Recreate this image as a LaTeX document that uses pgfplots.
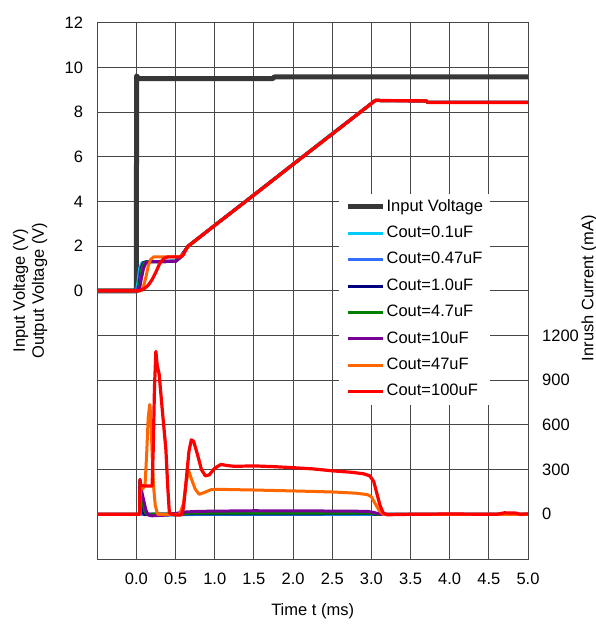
\documentclass[border=0pt]{standalone}
\usepackage{pgfplots}
\pgfplotsset{compat=1.18}
\usepackage{fontspec}
\setmainfont{Liberation Sans}
\newcommand\f{\fontsize{16.5bp}{19bp}\selectfont}
\definecolor{inputgray}{RGB}{55,55,55}
\definecolor{ccyan}{RGB}{0,204,255}
\definecolor{cblue}{RGB}{51,110,255}
\definecolor{cnavy}{RGB}{0,0,128}
\definecolor{cgreen}{RGB}{0,128,0}
\definecolor{cpurple}{RGB}{120,0,150}
\definecolor{corange}{RGB}{255,102,0}
\definecolor{cred}{RGB}{255,0,0}
\definecolor{gridc}{RGB}{70,70,70}
\begin{document}
\begin{tikzpicture}
\path[use as bounding box] (-97.3bp,-65bp) rectangle (498.7bp,559bp);
\begin{axis}[
 scale only axis, width=430.7bp, height=536.3bp,
 xmin=-0.5, xmax=5, ymin=-12, ymax=12,
 xtick={0,0.5,1,1.5,2,2.5,3,3.5,4,4.5,5},
 xticklabels={0.0,0.5,1.0,1.5,2.0,2.5,3.0,3.5,4.0,4.5,5.0},
 ytick={-10,-8,-6,-4,-2,0,2,4,6,8,10,12},
 yticklabels={,,,,,0,2,4,6,8,10,12},
 grid=major, major grid style={draw=gridc, line width=0.9bp},
 axis line style={draw=gridc, line width=0.9bp},
 major tick length=0pt,
 /pgf/number format/assume math mode=true,
 tick label style={font=\f, inner sep=0pt},
 xticklabel style={anchor=north, yshift=-14bp},
 yticklabel style={anchor=east, xshift=-14bp},
 xlabel={Time t (ms)},
 ylabel={Input Voltage (V)\\Output Voltage (V)},
 every axis x label/.style={at={(axis description cs:0.5,-0.098)}, anchor=center, font=\f},
 every axis y label/.style={at={(axis description cs:-0.156,0.5)}, rotate=90, anchor=center, align=center, font=\f},
 every axis plot/.append style={line join=round},
]
% Input voltage
\addplot[inputgray, line width=5bp] coordinates {(-0.5,0)(0,0)(0.001,9.62)(0.03,9.5)(1.74,9.5)(1.76,9.57)(5,9.57)};
% Output voltages
\addplot[ccyan, line width=3bp] coordinates {(-0.5,0)(0.0,0)(0.02,0.4)(0.04,1.0)(0.07,1.25)(0.12,1.3)(0.5,1.33)(0.56,1.5)(0.62,1.8)(0.66,2.0)(1.0,2.95)(1.5,4.31)(2.0,5.68)(2.5,7.05)(3.05,8.52)(3.7,8.5)(3.72,8.43)(5,8.43)};
\addplot[cblue, line width=3bp] coordinates {(-0.5,0)(0.01,0)(0.03,0.4)(0.05,1.0)(0.08,1.25)(0.12,1.3)(0.5,1.33)(0.56,1.5)(0.62,1.8)(0.66,2.0)(1.0,2.93)(1.5,4.29)(2.0,5.66)(2.5,7.02)(3.05,8.52)(3.7,8.5)(3.72,8.43)(5,8.43)};
\addplot[cnavy, line width=3bp] coordinates {(-0.5,0)(0.015,0)(0.035,0.3)(0.06,1.0)(0.09,1.25)(0.13,1.3)(0.5,1.32)(0.56,1.5)(0.62,1.8)(0.66,2.0)(1.0,2.93)(1.5,4.29)(2.0,5.66)(2.5,7.02)(3.05,8.52)(3.7,8.5)(3.72,8.43)(5,8.43)};
\addplot[cgreen, line width=3bp] coordinates {(-0.5,0)(0.02,0)(0.04,0.3)(0.07,1.0)(0.1,1.25)(0.14,1.3)(0.5,1.32)(0.56,1.5)(0.62,1.8)(0.66,2.0)(1.0,2.93)(1.5,4.29)(2.0,5.66)(2.5,7.02)(3.05,8.52)(3.7,8.5)(3.72,8.43)(5,8.43)};
\addplot[cpurple, line width=3bp] coordinates {(-0.5,0)(0.03,0)(0.04,0.1)(0.06,0.5)(0.09,1.0)(0.12,1.25)(0.15,1.3)(0.5,1.32)(0.56,1.5)(0.62,1.8)(0.66,2.0)(1.0,2.93)(1.5,4.29)(2.0,5.66)(2.5,7.02)(3.05,8.52)(3.7,8.5)(3.72,8.43)(5,8.43)};
\addplot[corange, line width=3bp] coordinates {(-0.5,0)(0.06,0)(0.09,0.2)(0.12,0.6)(0.15,1.1)(0.18,1.4)(0.22,1.52)(0.55,1.52)(0.6,1.65)(0.66,2.0)(1.0,2.93)(1.5,4.29)(2.0,5.66)(2.5,7.02)(3.05,8.52)(3.7,8.5)(3.72,8.43)(5,8.43)};
\addplot[cred, line width=3.2bp] coordinates {(-0.5,0)(0.03,0)(0.1,0.1)(0.15,0.25)(0.2,0.5)(0.25,0.85)(0.3,1.25)(0.35,1.45)(0.4,1.52)(0.57,1.52)(0.6,1.62)(0.63,1.84)(0.66,2.0)(1.0,2.93)(1.5,4.29)(2.0,5.66)(2.5,7.02)(3.05,8.52)(3.7,8.5)(3.72,8.43)(5,8.43)};
\end{axis}
\begin{axis}[
 scale only axis, width=430.7bp, height=536.3bp,
 xmin=-0.5, xmax=5, ymin=-300, ymax=3300,
 axis x line=none, axis y line*=right, xtick=\empty,
 ytick={0,300,600,900,1200},
 yticklabels={0,300,600,900,1200},
 axis line style={draw=gridc, line width=0.9bp},
 major tick length=0pt,
 tick label style={font=\f, inner sep=0pt},
 yticklabel style={anchor=west, xshift=14bp},
 ylabel={Inrush Current (mA)},
 every axis y label/.style={at={(axis description cs:1.1416,0.505)}, rotate=90, anchor=center, font=\f},
 every axis plot/.append style={line join=round},
 legend style={at={(0.561,0.681)}, anchor=north west, draw=none, fill=white, font=\f,
   inner xsep=6bp, inner ysep=5bp, row sep=10.5bp, column sep=0pt,
   nodes={inner xsep=1.5bp, inner ysep=0pt, text height=12.2bp, text depth=3.7bp}},
 legend cell align=left,
 legend image code/.code={\draw[#1] (0bp,0bp) -- (35bp,0bp);},
]
\addlegendimage{inputgray, line width=5bp}
\addlegendentry{Input Voltage}
\addplot[ccyan, line width=3bp] coordinates {(-0.5,0)(0.04,0)(0.045,120)(0.05,30)(0.06,0)(0.25,-3)(0.45,-6)(0.6,-2)(1.0,0)(3.0,0)(5,0)};
\addlegendentry{Cout=0.1uF}
\addplot[cblue, line width=3bp] coordinates {(-0.5,0)(0.04,0)(0.045,160)(0.055,40)(0.07,0)(3.0,2)(3.05,0)(5,0)};
\addlegendentry{Cout=0.47uF}
\addplot[cnavy, line width=3bp] coordinates {(-0.5,0)(0.04,0)(0.045,230)(0.06,120)(0.08,20)(0.1,0)(0.6,3)(3.0,4)(3.05,0)(5,0)};
\addlegendentry{Cout=1.0uF}
\addplot[cgreen, line width=3bp] coordinates {(-0.5,0)(0.04,0)(0.045,210)(0.06,160)(0.08,80)(0.11,15)(0.13,0)(0.5,2)(0.7,8)(3.0,8)(3.08,0)(5,0)};
\addlegendentry{Cout=4.7uF}
\addplot[cpurple, line width=3bp] coordinates {(-0.5,0)(0.04,0)(0.045,190)(0.06,170)(0.09,100)(0.12,30)(0.15,-5)(0.2,-10)(0.4,-5)(0.5,5)(0.6,15)(0.8,20)(1.5,24)(2.5,22)(2.95,20)(3.05,10)(3.12,0)(5,0)};
\addlegendentry{Cout=10uF}
\addplot[corange, line width=3bp] coordinates {(-0.5,0)(0.045,0)(0.05,180)(0.08,170)(0.11,200)(0.13,400)(0.15,650)(0.17,737)(0.185,650)(0.2,400)(0.22,180)(0.24,60)(0.27,0)(0.55,0)(0.6,70)(0.64,230)(0.67,290)(0.7,240)(0.75,170)(0.8,134)(0.86,145)(0.95,165)(1.02,168)(1.5,163)(2.0,157)(2.5,150)(2.8,142)(2.95,132)(3.0,118)(3.05,70)(3.1,25)(3.15,0)(5,0)};
\addlegendentry{Cout=47uF}
\addplot[cred, line width=3.2bp] coordinates {(-0.5,0)(0.04,0)(0.045,235)(0.055,195)(0.1,190)(0.2,190)(0.215,450)(0.23,850)(0.248,1094)(0.265,1000)(0.29,940)(0.33,700)(0.376,435)(0.4,180)(0.42,12)(0.45,0)(0.5,-5)(0.57,-5)(0.6,40)(0.63,200)(0.67,420)(0.7,500)(0.73,490)(0.78,400)(0.83,300)(0.88,258)(0.93,265)(1.0,310)(1.08,335)(1.15,328)(1.25,322)(1.5,325)(1.75,320)(2.0,313)(2.25,305)(2.5,292)(2.75,282)(2.9,272)(2.98,258)(3.03,220)(3.07,140)(3.11,60)(3.15,10)(3.2,-3)(3.5,0)(4.0,2)(4.6,0)(4.7,10)(4.85,8)(4.9,0)(5.0,3)};
\addlegendentry{Cout=100uF}
\end{axis}
\end{tikzpicture}
\end{document}
